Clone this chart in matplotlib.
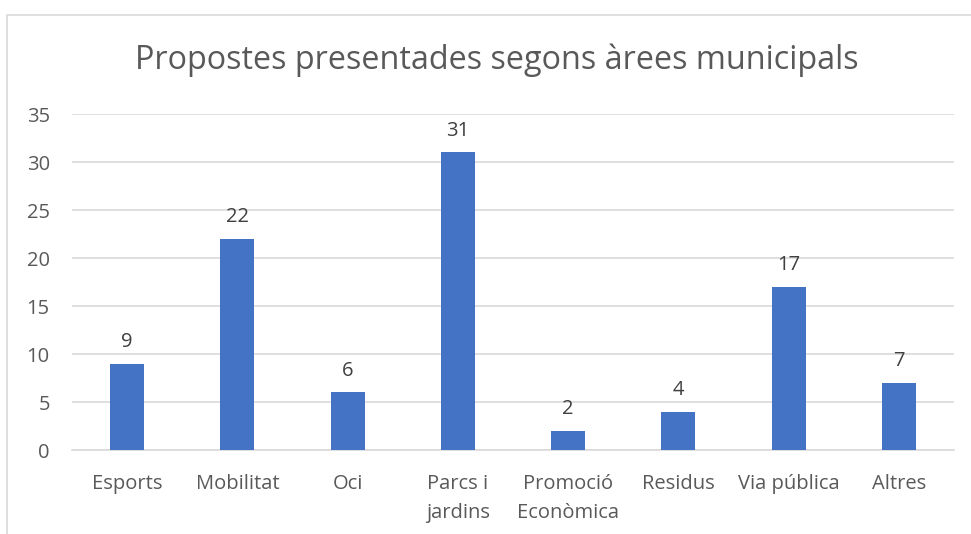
import matplotlib.pyplot as plt
from matplotlib.patches import Rectangle

# dades
categories = ['Esports', 'Mobilitat', 'Oci', 'Parcs i\njardins', 'Promoció\nEconòmica',
              'Residus', 'Via pública', 'Altres']
values = [9, 22, 6, 31, 2, 4, 17, 7]
yticks = [0, 5, 10, 15, 20, 25, 30, 35]

text_color = '#595959'
plt.rcParams['font.family'] = ['Open Sans', 'DejaVu Sans']

fig = plt.figure(figsize=(9.71, 5.34), dpi=100)
# vora del gràfic (només visible a l'esquerra i a dalt)
fig.patches.append(Rectangle((7 / 971, -0.1), 1.2, 1 - 15 / 534 + 0.1, transform=fig.transFigure,
                             fill=False, edgecolor='#D9D9D9', linewidth=1.2))

ax = fig.add_axes([72 / 971, 84 / 534, 882 / 971, 336 / 534])
x = range(len(categories))
bars = ax.bar(x, values, width=0.31, color='#4472C4', zorder=3)
for b, v in zip(bars, values):
    ax.text(b.get_x() + b.get_width() / 2, v + 1.2, str(v), ha='center', va='bottom',
            fontsize=14.5, color='#404040')

ax.set_xlim(-0.5, len(categories) - 0.5)
ax.set_ylim(0, 35)
ax.set_yticks(yticks)
ax.yaxis.grid(True, color='#D9D9D9', linewidth=1.2, zorder=0)
ax.set_xticks(list(x))
ax.set_xticklabels(categories, linespacing=1.6)
ax.tick_params(axis='both', length=0, labelsize=14.5, labelcolor=text_color)
ax.tick_params(axis='x', pad=17)
ax.tick_params(axis='y', pad=16)
for s in ['top', 'right', 'left']:
    ax.spines[s].set_visible(False)
ax.spines['bottom'].set_color('#D9D9D9')
ax.spines['bottom'].set_linewidth(1.2)

fig.text(497 / 971, 1 - 60 / 534, 'Propostes presentades segons àrees municipals',
         ha='center', va='center', fontsize=23.3, color=text_color)

fig.savefig('out.png', dpi=100)
